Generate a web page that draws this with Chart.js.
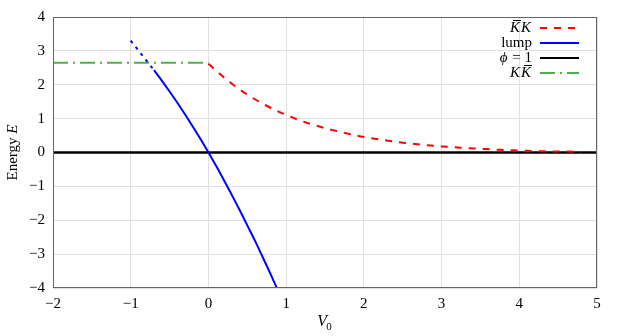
<!DOCTYPE html>
<html>
<head>
<meta charset="utf-8">
<script src="https://cdn.jsdelivr.net/npm/chart.js@4/dist/chart.umd.min.js"></script>
<style>
  html, body { margin: 0; padding: 0; background: #fff; }
  #wrap { width: 623px; height: 336px; }
</style>
</head>
<body>
<div id="wrap"><canvas id="myChart" width="623" height="336"></canvas></div>
<script>
// data
const kbarkV = [0, 0.25, 0.5, 0.75, 1, 1.25, 1.5, 1.75, 2, 2.25, 2.5, 2.75, 3, 3.25, 3.5, 3.75, 4, 4.25, 4.5, 4.8];
const kbarkE = [2.62, 2.12, 1.71, 1.38, 1.11, 0.89, 0.72, 0.58, 0.46, 0.37, 0.29, 0.23, 0.18, 0.14, 0.11, 0.08, 0.06, 0.04, 0.03, 0.02];
const lumpV = [-1, -0.9, -0.8, -0.7, -0.6, -0.5, -0.4, -0.3, -0.2, -0.1, 0, 0.1, 0.2, 0.3, 0.4, 0.5, 0.6, 0.7, 0.8, 0.88];
const lumpE = [3.30, 3.01, 2.72, 2.43, 2.12, 1.80, 1.47, 1.12, 0.76, 0.39, 0, -0.40, -0.82, -1.25, -1.69, -2.15, -2.61, -3.10, -3.59, -4.0];
const phiV = [-2, 5];
const phiE = [0, 0];
const kkbarV = [-2, 0];
const kkbarE = [2.65, 2.65];
const lumpDottedUntil = -0.75;
const xTicks = [-2, -1, 0, 1, 2, 3, 4, 5];
const yTicks = [-4, -3, -2, -1, 0, 1, 2, 3, 4];

const SERIF = '"Liberation Serif", "DejaVu Serif", serif';

function pts(xs, ys) { return xs.map((x, i) => ({x: x, y: ys[i]})); }

// legend rows: pieces of text, drawn right to left from the sample line
const legendItems = [
  {parts: [{t: 'K', it: true, bar: true}, {t: 'K', it: true}], color: 'rgb(255,0,0)', dash: [7, 7]},
  {parts: [{t: 'lump'}], color: 'rgb(0,0,255)', dash: []},
  {parts: [{t: '\u03d5', it: true}, {t: ' = 1'}], color: 'rgb(0,0,0)', dash: []},
  {parts: [{t: 'K', it: true}, {t: 'K', it: true, bar: true}], color: 'rgb(77,175,74)', dash: [15, 5, 2, 5]}
];

function fontOf(p, size) { return (p.it ? 'italic ' : '') + size + 'px ' + SERIF; }

function drawParts(c, parts, xRight, y, size) {
  let w = 0;
  parts.forEach(p => { c.font = fontOf(p, size); w += c.measureText(p.t).width + (p.it ? 1 : 0); });
  let x = xRight - w;
  parts.forEach(p => {
    c.font = fontOf(p, size);
    c.textAlign = 'left';
    c.textBaseline = 'middle';
    c.fillText(p.t, x, y);
    const pw = c.measureText(p.t).width;
    if (p.bar) {
      c.save();
      c.lineWidth = 1;
      c.strokeStyle = '#000';
      c.beginPath();
      c.moveTo(x + 3, y - 7.5);
      c.lineTo(x + pw + 1, y - 7.5);
      c.stroke();
      c.restore();
    }
    x += pw + (p.it ? 1 : 0);
  });
}

const legendPlugin = {
  id: 'sideLegend',
  afterDraw(chart) {
    const c = chart.ctx;
    const area = chart.chartArea;
    const x1 = area.right - 57, x2 = area.right - 18;
    c.save();
    legendItems.forEach((it, i) => {
      const y = area.top + 11 + i * 15;
      c.fillStyle = '#000';
      drawParts(c, it.parts, x1 - 8, y, 15);
      c.strokeStyle = it.color;
      c.lineWidth = 2;
      c.setLineDash(it.dash);
      c.beginPath();
      c.moveTo(x1, y);
      c.lineTo(x2, y);
      c.stroke();
    });
    c.restore();
  }
};

// axis titles with mixed italic / upright pieces
const titlesPlugin = {
  id: 'titles',
  afterDraw(chart) {
    const c = chart.ctx, a = chart.chartArea;
    c.save();
    c.fillStyle = '#000';
    c.textBaseline = 'alphabetic';
    // x title: V with subscript 0
    const cx = (a.left + a.right) / 2;
    c.font = 'italic 16px ' + SERIF;
    const vw = c.measureText('V').width;
    c.font = '11px ' + SERIF;
    const zw = c.measureText('0').width;
    let x = cx - (vw + zw) / 2;
    c.font = 'italic 16px ' + SERIF;
    c.textAlign = 'left';
    c.fillText('V', x, 326);
    c.font = '11px ' + SERIF;
    c.fillText('0', x + vw - 1, 330);
    // y title: Energy E, rotated
    c.translate(17, (a.top + a.bottom) / 2);
    c.rotate(-Math.PI / 2);
    c.font = '15px ' + SERIF;
    const ew = c.measureText('Energy ').width;
    c.font = 'italic 15px ' + SERIF;
    const iw = c.measureText('E').width;
    let y0 = -(ew + iw) / 2;
    c.font = '15px ' + SERIF;
    c.fillText('Energy ', y0, 0);
    c.font = 'italic 15px ' + SERIF;
    c.fillText('E', y0 + ew, 0);
    c.restore();
  }
};

const frame = {
  id: 'frame',
  afterDatasetsDraw(chart) {
    const c = chart.ctx, a = chart.chartArea;
    c.save();
    c.strokeStyle = '#666';
    c.lineWidth = 1;
    c.strokeRect(a.left + 0.5, a.top + 0.5, a.right - a.left - 1, a.bottom - a.top - 1);
    c.restore();
  }
};

const minusFmt = v => (v < 0 ? '\u2212' + Math.abs(v) : '' + v);

const ctx = document.getElementById('myChart');
new Chart(ctx, {
  type: 'scatter',
  data: {
    datasets: [
      {
        label: 'K\u0304K', data: pts(kbarkV, kbarkE), showLine: true,
        borderColor: 'rgb(255,0,0)', borderWidth: 2, borderDash: [7, 7],
        pointRadius: 0, cubicInterpolationMode: 'monotone'
      },
      {
        label: 'lump', data: pts(lumpV, lumpE), showLine: true,
        borderColor: 'rgb(0,0,255)', borderWidth: 2, pointRadius: 0,
        cubicInterpolationMode: 'monotone',
        segment: {
          borderDash: s => s.p0.parsed.x < lumpDottedUntil ? [3, 5] : undefined
        }
      },
      {
        label: '\u03d5 = 1', data: pts(phiV, phiE), showLine: true,
        borderColor: 'rgb(0,0,0)', borderWidth: 2.5, pointRadius: 0
      },
      {
        label: 'KK\u0304', data: pts(kkbarV, kkbarE), showLine: true,
        borderColor: 'rgb(77,175,74)', borderWidth: 2, borderDash: [15, 5, 2, 5],
        pointRadius: 0
      }
    ]
  },
  options: {
    responsive: false,
    animation: false,
    layout: { padding: { left: 0, right: 26, top: 15, bottom: 0 } },
    plugins: { legend: { display: false }, tooltip: { enabled: false } },
    scales: {
      x: {
        type: 'linear', min: -2, max: 5,
        afterBuildTicks: s => { s.ticks = xTicks.map(v => ({value: v})); },
        afterFit: s => { s.height = 48; },
        grid: { color: '#e0e0e0', drawTicks: false },
        border: { display: false },
        ticks: {
          padding: 7, color: '#000', font: { family: SERIF, size: 15 },
          maxRotation: 0, callback: minusFmt
        }
      },
      y: {
        type: 'linear', min: -4, max: 4,
        afterBuildTicks: s => { s.ticks = yTicks.map(v => ({value: v})); },
        afterFit: s => { s.width = 53; },
        grid: { color: '#e0e0e0', drawTicks: false },
        border: { display: false },
        ticks: {
          padding: 8, color: '#000', font: { family: SERIF, size: 15 },
          callback: minusFmt
        }
      }
    }
  },
  plugins: [frame, legendPlugin, titlesPlugin]
});
</script>
</body>
</html>
